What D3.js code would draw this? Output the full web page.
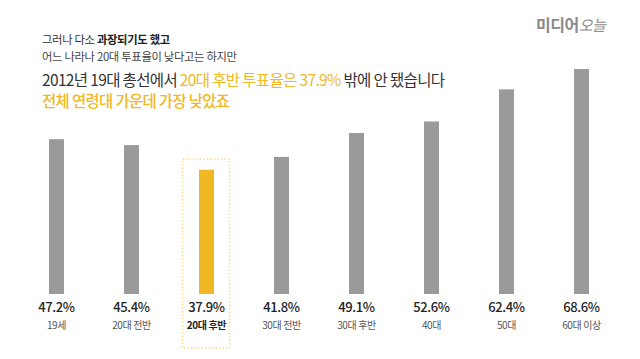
<!DOCTYPE html>
<html><head><meta charset="utf-8">
<script src="https://cdn.jsdelivr.net/npm/d3@7"></script>
<style>body{margin:0;background:#fff}svg{display:block}text{font-family:"Noto Sans CJK KR","Noto Sans",sans-serif}</style>
</head><body><svg id="c" width="640" height="359"></svg>
<script>
const categories = ["19세","20대 전반","20대 후반","30대 전반","30대 후반","40대","50대","60대 이상"];
const values = [47.2,45.4,37.9,41.8,49.1,52.6,62.4,68.6];
const highlight = "20대 후반";

const svg = d3.select("#c");
const YEL = "#f0b823", GRAY = "#9a9a9a";

const x = d3.scalePoint().domain(categories).range([56.5, 581.5]);
const y = d3.scaleLinear().domain([0, 68.6]).range([294, 69]);
const bw = 15;

// highlight dotted box
const hx = x(highlight);
svg.append("rect").attr("x", hx - 24).attr("y", 159).attr("width", 47).attr("height", 189)
  .attr("fill", "none").attr("stroke", "#f8dc8c").attr("stroke-width", 1.5).attr("stroke-dasharray", "1.5,2");

svg.selectAll("rect.bar").data(categories).join("rect").attr("class","bar")
  .attr("x", d => x(d) - bw/2).attr("width", bw)
  .attr("y", (d,i) => y(values[i])).attr("height", (d,i) => y(0) - y(values[i]))
  .attr("fill", d => d === highlight ? YEL : GRAY);

svg.selectAll("text.val").data(categories).join("text").attr("class","val")
  .attr("x", d => x(d)).attr("y", 312).attr("text-anchor","middle")
  .attr("font-size", 13).attr("font-weight", 500).attr("fill", "#222").attr("letter-spacing", -0.4)
  .text((d,i) => values[i].toFixed(1) + "%");

svg.selectAll("text.cat").data(categories).join("text").attr("class","cat")
  .attr("x", d => x(d)).attr("y", 329).attr("text-anchor","middle")
  .attr("font-size", 10).attr("letter-spacing", -0.4)
  .attr("font-weight", d => d === highlight ? "bold" : "normal")
  .attr("fill", d => d === highlight ? "#222" : "#555")
  .text(d => d);

// titles
const t1 = svg.append("text").attr("x", 42).attr("y", 44).attr("font-size", 11.3).attr("fill", "#333").attr("letter-spacing", -0.3);
t1.append("tspan").text("그러나 다소 ");
t1.append("tspan").attr("font-weight","bold").attr("fill","#222").text("과장되기도 했고");
svg.append("text").attr("x", 42).attr("y", 61).attr("font-size", 11.3).attr("fill", "#444").attr("letter-spacing", -0.3)
  .text("어느 나라나 20대 투표율이 낮다고는 하지만");
const t3 = svg.append("text").attr("x", 42).attr("y", 86).attr("font-size", 15.5).attr("fill", "#333").attr("letter-spacing", -0.65);
t3.append("tspan").text("2012년 19대 총선에서 ");
t3.append("tspan").attr("fill", YEL).text("20대 후반 투표율은 37.9%");
t3.append("tspan").text(" 밖에 안 됐습니다");
svg.append("text").attr("x", 42).attr("y", 107).attr("font-size", 15.5).attr("fill", YEL).attr("font-weight", 500).attr("letter-spacing", -0.7)
  .text("전체 연령대 가운데 가장 낮았죠");

// logo
const lg = svg.append("text").attr("x", 536).attr("y", 31).attr("font-size", 16).attr("font-weight","bold").attr("fill", "#8a8a8a").attr("letter-spacing", -0.5);
lg.append("tspan").text("미디어");
lg.append("tspan").attr("font-style","italic").attr("font-weight","normal").attr("font-size", 15).text("오늘");
</script></body></html>
